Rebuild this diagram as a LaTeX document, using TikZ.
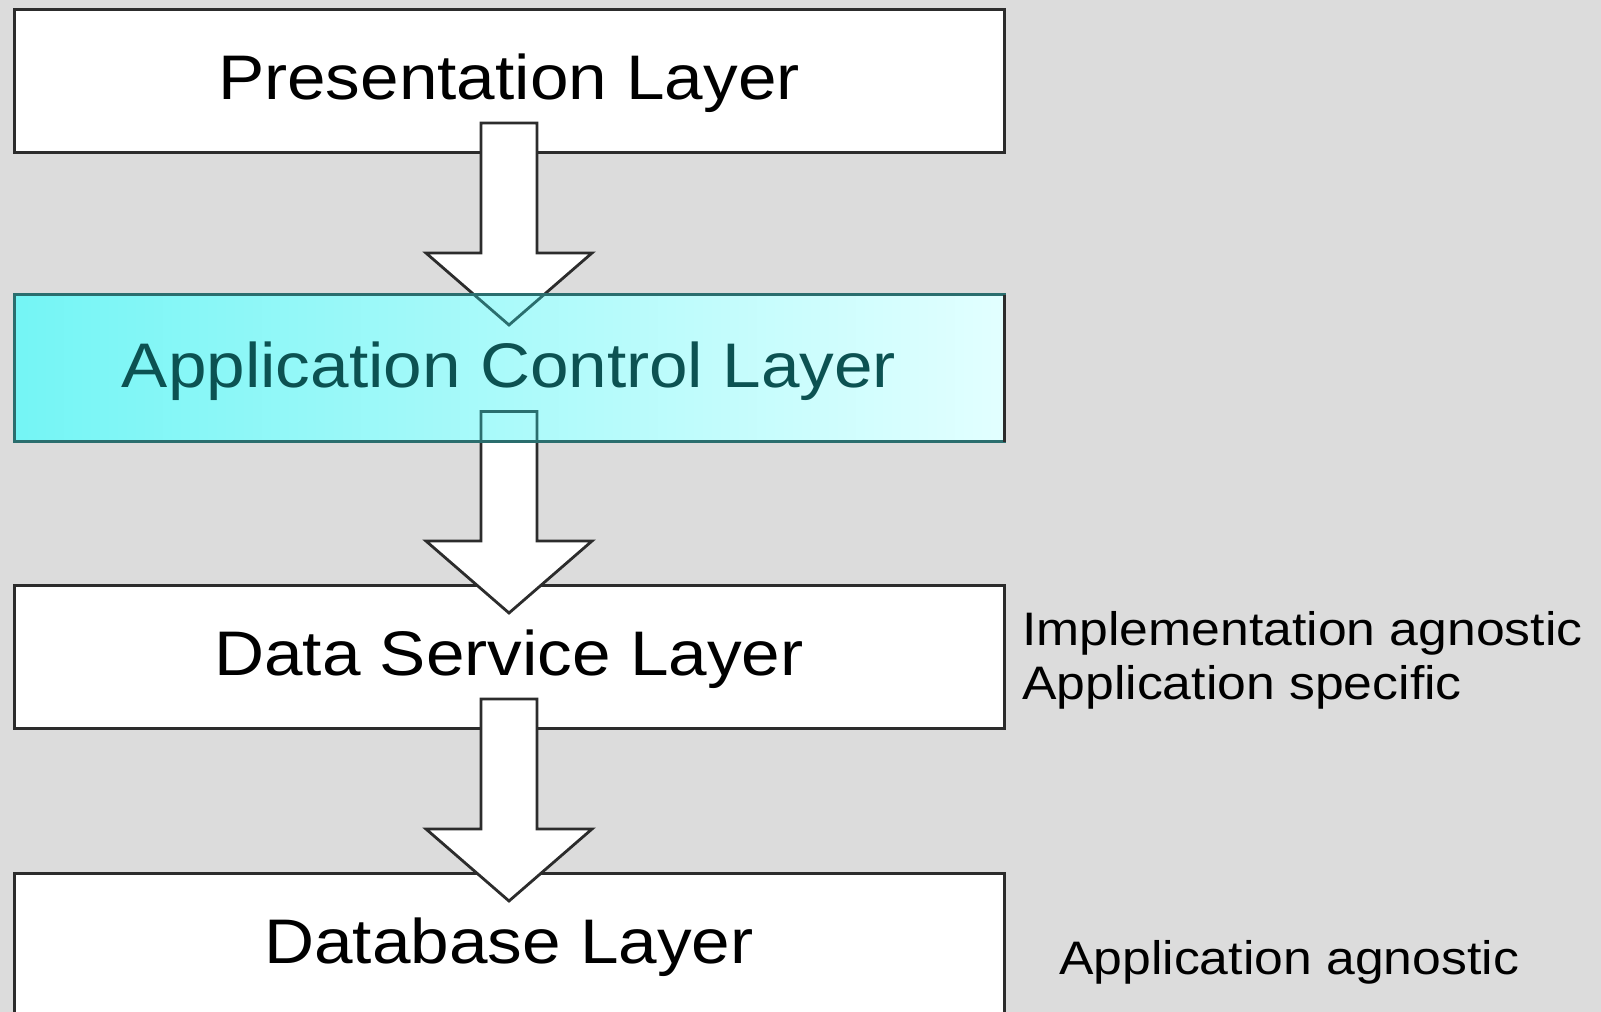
\documentclass[tikz,border=0pt]{standalone}
\usepackage{fontspec}
\setmainfont[FakeStretch=1.1]{Liberation Sans}
\usetikzlibrary{calc}
\definecolor{bgc}{HTML}{DCDCDC}
\definecolor{edge}{HTML}{2C2C2C}
\definecolor{cyanL}{HTML}{74F5F5}
\definecolor{cyanM}{HTML}{B0FEFE}
\definecolor{cyanR}{HTML}{E2FFFF}
\definecolor{tealtext}{HTML}{0C5252}
\definecolor{tealedge}{HTML}{2A6E6E}
\pgfdeclarelayer{top}
\pgfdeclarelayer{over}
\pgfsetlayers{main,top,over}
\tikzset{
  layerbox/.style={draw=edge, line width=3pt, fill=white, inner sep=0pt, outer sep=0pt,
    minimum width=990pt, text height=38pt, text depth=0pt,
    font=\fontsize{63}{70}\selectfont},
  sidetext/.style={inner sep=0pt, anchor=base west, font=\fontsize{47}{54}\selectfont, text=black},
  blockarrowstyle/.style={draw=edge, line width=2.8pt, fill=white, line join=miter},
}
\newcommand\blockarrow[3][]{%
  \path[blockarrowstyle,#1] let \p1=(#2), \p2=(#3) in
    (\x1-28pt,\y1) -- (\x1+28pt,\y1) -- (\x1+28pt,\y2+72pt) -- (\x1+83pt,\y2+72pt)
    -- (\x1,\y2) -- (\x1-83pt,\y2+72pt) -- (\x1-28pt,\y2+72pt) -- cycle;}
\begin{document}
\begin{tikzpicture}[x=1pt,y=-1pt]
\useasboundingbox (0,0) rectangle (1601,1012);
\clip (0,0) rectangle (1601,1012);
\fill[bgc] (0,0) rectangle (1601,1012);
% boxes
\node[layerbox, minimum height=143pt] (pres) at (509,80.5) {Presentation Layer};
\node[layerbox, minimum height=143pt] (dsl) at (509,656.5) {Data Service Layer};
\node[layerbox, minimum height=143pt] (db) at (509,944.5) {Database Layer};
\begin{pgfonlayer}{top}
\node[layerbox, minimum height=147pt, draw=tealedge, left color=cyanL, middle color=cyanM, right color=cyanR,
      text=tealtext] (app) at (509,368) {Application Control Layer};
\draw[edge, line width=3pt] (app.north east) -- (app.south east);
\end{pgfonlayer}
% arrow end points
\coordinate (a1s) at ($(pres.south)+(0,-29)$);
\coordinate (a1t) at ($(app.north)+(0,30.5)$);
\coordinate (a2s) at ($(app.south)+(0,-30)$);
\coordinate (a2t) at ($(dsl.north)+(0,28)$);
\coordinate (a3s) at ($(dsl.south)+(0,-29)$);
\coordinate (a3t) at ($(db.north)+(0,28)$);
% arrows
\blockarrow{a1s}{a1t}
\blockarrow{a2s}{a2t}
\blockarrow{a3s}{a3t}
% arrow outlines seen through the cyan box
\begin{pgfonlayer}{over}
\begin{scope}
\clip (app.north west) rectangle (app.south east);
\blockarrow[fill=none, draw=tealedge]{a1s}{a1t}
\blockarrow[fill=none, draw=tealedge]{a2s}{a2t}
\end{scope}
\end{pgfonlayer}
% side notes
\node[sidetext] (impl) at ($(dsl.north east)+(18,60)$) {Implementation agnostic};
\node[sidetext] (spec) at ($(impl.base west)+(0,54)$) {Application specific};
\node[sidetext] (agn) at ($(db.north east)+(55,101)$) {Application agnostic};
\end{tikzpicture}
\end{document}
